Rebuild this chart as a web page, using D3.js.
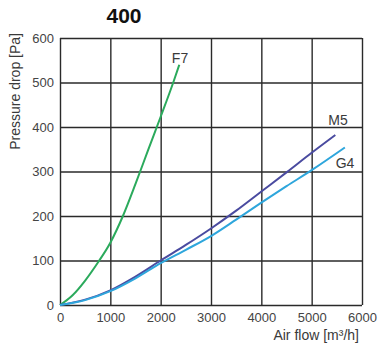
<!DOCTYPE html>
<html lang="en">
<meta charset="utf-8">
<head>
    <script src="https://d3js.org/d3.v7.min.js"></script>
</head>
<body style="margin:0;background:#fff">
<style>
    text { font-family: "Liberation Sans", Arial, sans-serif; fill: #3a3a3a; }
    .grid line { stroke: #2a2a2a; stroke-width: 1.4; }
    .grid path { display: none; }
    .curve { fill: none; stroke-width: 2; }
</style>

<svg width="384" height="353"></svg>
</body>

<script>
// data
var flowTicks = [0, 1000, 2000, 3000, 4000, 5000, 6000];
var pressTicks = [0, 100, 200, 300, 400, 500, 600];

var f7Flow  = [0, 250, 500, 750, 1000, 1250, 1500, 1750, 2000, 2250, 2370];
var f7Press = [0, 22, 55, 95, 140, 200, 272, 348, 423, 500, 540];

var m5Flow  = [0, 500, 1000, 1500, 2000, 2500, 3000, 3500, 4000, 4500, 5000, 5470];
var m5Press = [0, 12, 33, 64, 100, 135, 172, 212, 255, 298, 342, 382];

var g4Flow  = [0, 500, 1000, 1500, 2000, 2500, 3000, 3500, 4000, 4500, 5000, 5660];
var g4Press = [0, 11, 31, 60, 94, 124, 155, 192, 230, 267, 303, 354];

var series = [
    { name: "F7", color: "#2baa5c", flow: f7Flow, press: f7Press, lx: 180, ly: 63 },
    { name: "M5", color: "#4a4ba0", flow: m5Flow, press: m5Press, lx: 338, ly: 125 },
    { name: "G4", color: "#2ea6dc", flow: g4Flow, press: g4Press, lx: 345, ly: 168 }
];

var svg = d3.select("svg");

// plot area
var plotLeft = 60, plotTop = 38, plotRight = 362, plotBottom = 305;

var x = d3.scaleLinear().domain([0, 6000]).range([plotLeft, plotRight]);
var y = d3.scaleLinear().domain([0, 600]).range([plotBottom, plotTop]);

// title
svg.append("text")
    .attr("x", 124)
    .attr("y", 23)
    .attr("text-anchor", "middle")
    .attr("font-size", "21px")
    .attr("font-weight", "bold")
    .style("fill", "#111")
    .text("400");

// vertical grid lines + x tick labels
svg.append("g")
    .attr("class", "grid")
    .attr("transform", "translate(0," + plotBottom + ")")
    .call(d3.axisBottom(x).tickValues(flowTicks).tickSize(-(plotBottom - plotTop)).tickPadding(7).tickFormat(d3.format("d")))
    .selectAll("text")
    .attr("font-size", "13px")
    .attr("dy", "0.75em");

// horizontal grid lines + y tick labels
svg.append("g")
    .attr("class", "grid")
    .attr("transform", "translate(" + plotLeft + ",0)")
    .call(d3.axisLeft(y).tickValues(pressTicks).tickSize(-(plotRight - plotLeft)).tickPadding(6).tickFormat(d3.format("d")))
    .selectAll("text")
    .attr("font-size", "13px");

svg.selectAll(".grid text").style("font-family", "Liberation Sans, Arial, sans-serif").style("fill", "#444");

// axis titles
svg.append("text")
    .attr("transform", "translate(20,33) rotate(-90)")
    .attr("text-anchor", "end")
    .attr("font-size", "14px")
    .text("Pressure drop [Pa]");

svg.append("text")
    .attr("x", 359)
    .attr("y", 340)
    .attr("text-anchor", "end")
    .attr("font-size", "14px")
    .text("Air flow [m³/h]");

// curves
var line = d3.line()
    .x(function(d) { return x(d[0]); })
    .y(function(d) { return y(d[1]); })
    .curve(d3.curveMonotoneX);

series.forEach(function(s) {
    var pts = s.flow.map(function(f, i) { return [f, s.press[i]]; });
    svg.append("path")
        .attr("class", "curve")
        .attr("stroke", s.color)
        .attr("d", line(pts));

    svg.append("text")
        .attr("x", s.lx)
        .attr("y", s.ly)
        .attr("text-anchor", "middle")
        .attr("font-size", "14px")
        .text(s.name);
});
</script>
